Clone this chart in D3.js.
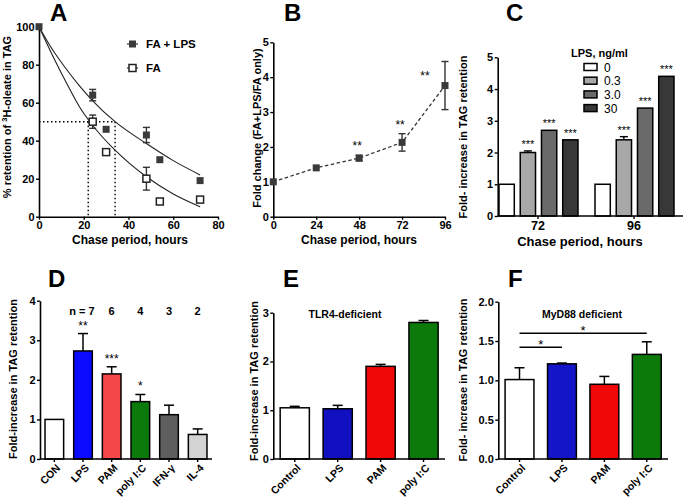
<!DOCTYPE html>
<html><head><meta charset="utf-8">
<script src="https://cdn.jsdelivr.net/npm/d3@7"></script>
<style>
body{margin:0;background:#fff;}
svg{display:block;font-family:"Liberation Sans",Arial,sans-serif;font-weight:bold;}
</style></head><body>
<svg id="c" width="683" height="500"></svg>
<script>
// ---------- DATA ----------
// Panel A
const aTimes = [0, 24, 30, 48, 54, 72];
const aLps = [100, 64, 46, 43, 30, 19];
const aLpsErr = [0, 3, 0, 4, 0, 0];
const aFa = [100, 50, 34, 20, 8, 9];
const aFaErr = [0, 3.5, 0, 6, 0, 0];
const aFitT = [0, 6, 12, 18, 24, 34, 48, 60, 72];
const aFitLps = [100, 88, 78, 69, 61, 50, 38.5, 29.5, 22];
const aFitFa = [100, 85, 71, 58, 48, 35, 21, 12, 5.3];
const aHalfLife = [22, 34];
const aXTicks = [0, 20, 40, 60, 80];
const aYTicks = [0, 20, 40, 60, 80, 100];
// Panel B
const bTimes = [0, 24, 48, 72, 96];
const bVals = [1, 1.4, 1.68, 2.13, 3.76];
const bErr = [0, 0.03, 0.08, 0.25, 0.69];
const bStars = ["", "", "**", "**", "**"];
const bYTicks = [0, 1, 2, 3, 4, 5];
// Panel C
const cGroups = ["72", "96"];
const cSeries = ["0", "0.3", "3.0", "30"];
const cVals72 = [1, 2.0, 2.7, 2.4];
const cVals96 = [1, 2.4, 3.4, 4.4];
const cErr72 = [0, 0.05, 0, 0];
const cErr96 = [0, 0.1, 0, 0];
const cStars = ["", "***", "***", "***"];
const cColors = ["#ffffff", "#a8a8a8", "#6a6a6a", "#383838"];
const cYTicks = [0, 1, 2, 3, 4, 5];
// Panel D
const dCats = ["CON", "LPS", "PAM", "poly I:C", "IFN-γ", "IL-4"];
const dVals = [1.0, 2.73, 2.15, 1.45, 1.12, 0.62];
const dErr = [0, 0.44, 0.18, 0.18, 0.24, 0.14];
const dN = ["", "n = 7", "6", "4", "3", "2"];
const dStars = ["", "**", "***", "*", "", ""];
const dColors = ["#ffffff", "#0a0aff", "#f24848", "#0b7a0b", "#5e5e5e", "#d4d4d4"];
const dYTicks = [0, 1, 2, 3, 4];
// Panel E
const eCats = ["Control", "LPS", "PAM", "poly I:C"];
const eVals = [1.05, 1.03, 1.9, 2.8];
const eErr = [0.03, 0.07, 0.04, 0.04];
const eColors = ["#ffffff", "#1010c0", "#f00808", "#0b7a0b"];
const eYTicks = [0, 1, 2, 3];
// Panel F
const fCats = ["Control", "LPS", "PAM", "poly I:C"];
const fVals = [1.01, 1.21, 0.95, 1.33];
const fErr = [0.15, 0.01, 0.1, 0.16];
const fColors = ["#ffffff", "#1414c8", "#f00808", "#0b7a0b"];
const fYTicks = [0, 0.5, 1.0, 1.5, 2.0];
const fSig = [{from: "Control", to: "LPS", level: 1.42}, {from: "Control", to: "poly I:C", level: 1.6}];

// ---------- DRAW ----------
const svg = d3.select("#c");
const FS = 11;

function styleAxis(g) {
  g.selectAll(".domain").attr("stroke", "#000").attr("stroke-width", 1.6);
  g.selectAll(".tick line").attr("stroke", "#000").attr("stroke-width", 1.4);
  g.selectAll(".tick text").attr("font-size", FS).attr("font-weight", "bold")
    .attr("font-family", "Liberation Sans, Arial, sans-serif").attr("fill", "#000");
}
function panelLetter(x, y, t) {
  svg.append("text").attr("x", x).attr("y", y).attr("font-size", 24).attr("font-weight", "bold").text(t);
}
function yLabel(x, y, t, fs) {
  return svg.append("text").attr("transform", `translate(${x},${y}) rotate(-90)`)
    .attr("text-anchor", "middle").attr("font-size", fs || FS).text(t);
}
function xLabel(x, y, t, fs) {
  svg.append("text").attr("x", x).attr("y", y).attr("text-anchor", "middle")
    .attr("font-size", fs || 12).text(t);
}
function yAxis(y, x0, ticks, fmt) {
  const g = svg.append("g").attr("transform", `translate(${x0},0)`)
    .call(d3.axisLeft(y).tickValues(ticks).tickSize(3).tickSizeOuter(0).tickPadding(1.5).tickFormat(fmt || d3.format("d")));
  styleAxis(g);
  return g;
}
function errBar(g, cx, lo, hi, w) {
  g.append("line").attr("x1", cx).attr("x2", cx).attr("y1", lo).attr("y2", hi);
  g.append("line").attr("x1", cx - w).attr("x2", cx + w).attr("y1", hi).attr("y2", hi);
}

// ===== Panel A =====
{
  const x = d3.scaleLinear().domain([0, 80]).range([39, 218]);
  const y = d3.scaleLinear().domain([0, 100]).range([216.7, 26.7]);
  panelLetter(50, 21, "A");
  const hl = svg.append("g").attr("stroke", "#000").attr("stroke-width", 1.4).attr("stroke-dasharray", "1.5,2.5");
  hl.append("line").attr("x1", x(0)).attr("x2", x(aHalfLife[1])).attr("y1", y(50)).attr("y2", y(50));
  aHalfLife.forEach(h => hl.append("line").attr("x1", x(h)).attr("x2", x(h)).attr("y1", y(50)).attr("y2", y(0)));
  const line = d3.line().x(d => x(d[0])).y(d => y(d[1])).curve(d3.curveMonotoneX);
  svg.append("path").datum(aFitT.map((t, i) => [t, aFitLps[i]])).attr("d", line)
    .attr("fill", "none").attr("stroke", "#222").attr("stroke-width", 1.1);
  svg.append("path").datum(aFitT.map((t, i) => [t, aFitFa[i]])).attr("d", line)
    .attr("fill", "none").attr("stroke", "#222").attr("stroke-width", 1.1);
  yAxis(y, 39, aYTicks);
  const gx = svg.append("g").attr("transform", `translate(0,216.7)`)
    .call(d3.axisBottom(x).tickValues(aXTicks).tickSize(3).tickSizeOuter(0).tickPadding(1.5));
  styleAxis(gx);
  const eb = (vals, errs) => aTimes.forEach((t, i) => {
    if (!errs[i]) return;
    const g = svg.append("g").attr("stroke", "#333").attr("stroke-width", 1.4);
    g.append("line").attr("x1", x(t)).attr("x2", x(t)).attr("y1", y(vals[i] - errs[i])).attr("y2", y(vals[i] + errs[i]));
    [vals[i] - errs[i], vals[i] + errs[i]].forEach(v => g.append("line").attr("x1", x(t) - 3.5).attr("x2", x(t) + 3.5).attr("y1", y(v)).attr("y2", y(v)));
  });
  eb(aLps, aLpsErr); eb(aFa, aFaErr);
  const s = 7;
  svg.selectAll(".lps").data(aTimes).enter().append("rect")
    .attr("x", d => x(d) - s / 2).attr("y", (d, i) => y(aLps[i]) - s / 2).attr("width", s).attr("height", s)
    .attr("fill", "#3a3a3a");
  svg.selectAll(".fa").data(aTimes.slice(1)).enter().append("rect")
    .attr("x", d => x(d) - s / 2).attr("y", (d, i) => y(aFa[i + 1]) - s / 2).attr("width", s).attr("height", s)
    .attr("fill", "#fff").attr("stroke", "#222").attr("stroke-width", 1.5);
  svg.append("line").attr("x1", 127).attr("x2", 138).attr("y1", 44).attr("y2", 44).attr("stroke", "#333").attr("stroke-width", 1.2);
  svg.append("rect").attr("x", 129).attr("y", 40.5).attr("width", s).attr("height", s).attr("fill", "#3a3a3a");
  svg.append("text").attr("x", 146).attr("y", 48).attr("font-size", 11.5).text("FA + LPS");
  svg.append("line").attr("x1", 127).attr("x2", 138).attr("y1", 68).attr("y2", 68).attr("stroke", "#333").attr("stroke-width", 1.2);
  svg.append("rect").attr("x", 129).attr("y", 64.5).attr("width", s).attr("height", s).attr("fill", "#fff").attr("stroke", "#222").attr("stroke-width", 1.5);
  svg.append("text").attr("x", 146).attr("y", 72).attr("font-size", 11.5).text("FA");
  const yl = yLabel(11, 117, "", 11);
  yl.append("tspan").text("% retention of ");
  yl.append("tspan").attr("font-size", 7.5).attr("dy", -4).text("3");
  yl.append("tspan").attr("dy", 4).text("H-oleate in TAG");
  xLabel(130, 244, "Chase period, hours");
}

// ===== Panel B =====
{
  const x = d3.scaleLinear().domain([0, 96]).range([273.3, 445]);
  const y = d3.scaleLinear().domain([0, 5]).range([216.7, 42.3]);
  panelLetter(284, 21, "B");
  yAxis(y, 273.3, bYTicks);
  const gx = svg.append("g").attr("transform", `translate(0,216.7)`)
    .call(d3.axisBottom(x).tickValues(bTimes).tickSize(3).tickSizeOuter(0).tickPadding(1.5));
  styleAxis(gx);
  svg.append("path").datum(bTimes.map((t, i) => [t, bVals[i]]))
    .attr("d", d3.line().x(d => x(d[0])).y(d => y(d[1])))
    .attr("fill", "none").attr("stroke", "#333").attr("stroke-width", 1.3).attr("stroke-dasharray", "3.5,2.5");
  bTimes.forEach((t, i) => {
    if (bErr[i] > 0.05) {
      const g = svg.append("g").attr("stroke", "#333").attr("stroke-width", 1.4);
      g.append("line").attr("x1", x(t)).attr("x2", x(t)).attr("y1", y(bVals[i] - bErr[i])).attr("y2", y(bVals[i] + bErr[i]));
      [bVals[i] - bErr[i], bVals[i] + bErr[i]].forEach(v => g.append("line").attr("x1", x(t) - 3.5).attr("x2", x(t) + 3.5).attr("y1", y(v)).attr("y2", y(v)));
    }
  });
  svg.selectAll(".bpt").data(bTimes).enter().append("rect")
    .attr("x", d => x(d) - 3.5).attr("y", (d, i) => y(bVals[i]) - 3.5).attr("width", 7).attr("height", 7).attr("fill", "#3a3a3a");
  bTimes.forEach((t, i) => {
    if (!bStars[i]) return;
    const last = i === bTimes.length - 1;
    const tx = last ? x(t) - 20 : x(t) - 2;
    const ty = last ? y(bVals[i] + bErr[i]) + 19 : y(bVals[i] + Math.max(bErr[i], 0.08)) - 5;
    svg.append("text").attr("x", tx).attr("y", ty).attr("text-anchor", "middle").attr("font-size", 12)
      .attr("font-weight", "normal").attr("fill", "#000").text(bStars[i]);
  });
  yLabel(261, 128, "Fold change (FA+LPS/FA only)", 11);
  xLabel(359, 244, "Chase period, hours");
}

// ===== Panel C =====
{
  const y = d3.scaleLinear().domain([0, 5]).range([216, 57.3]);
  const x0 = d3.scaleBand().domain(cGroups).range([490, 682]);
  const x1 = d3.scaleBand().domain(cSeries).range([9, 88]).paddingInner(0.28);
  panelLetter(506, 21, "C");
  const data = [cVals72, cVals96];
  const errs = [cErr72, cErr96];
  cGroups.forEach((g, gi) => {
    cSeries.forEach((s, si) => {
      const bx = x0(g) + x1(s);
      const v = data[gi][si];
      const e = errs[gi][si];
      const cx = bx + x1.bandwidth() / 2;
      if (e) errBar(svg.append("g").attr("stroke", "#000").attr("stroke-width", 1.4), cx, y(v), y(v + e), 4);
      svg.append("rect").attr("x", bx).attr("y", y(v)).attr("width", x1.bandwidth()).attr("height", y(0) - y(v))
        .attr("fill", cColors[si]).attr("stroke", "#000").attr("stroke-width", 1.5);
      if (cStars[si]) svg.append("text").attr("x", cx).attr("y", y(v + e) - 3).attr("text-anchor", "middle")
        .attr("font-size", 11).attr("font-weight", "normal").attr("fill", "#000").text(cStars[si]);
    });
  });
  yAxis(y, 497.7, cYTicks);
  const gx = svg.append("g").attr("transform", `translate(0,216)`);
  gx.append("line").attr("x1", 497.7).attr("x2", 683).attr("stroke", "#000").attr("stroke-width", 1.6);
  cGroups.forEach(g => {
    const cx = x0(g) + x0.bandwidth() / 2;
    gx.append("line").attr("x1", cx).attr("x2", cx).attr("y1", 0).attr("y2", 3).attr("stroke", "#000").attr("stroke-width", 1.4);
    gx.append("text").attr("x", cx).attr("y", 14).attr("text-anchor", "middle").attr("font-size", 12.5).text(g);
  });
  svg.append("text").attr("x", 571).attr("y", 57).attr("font-size", 11).text("LPS, ng/ml");
  cSeries.forEach((s, i) => {
    const ly = 67 + i * 13.7;
    svg.append("rect").attr("x", 584).attr("y", ly - 3.5).attr("width", 13).attr("height", 7)
      .attr("fill", cColors[i]).attr("stroke", "#000").attr("stroke-width", 1.5);
    svg.append("text").attr("x", 604).attr("y", ly + 4.5).attr("font-size", 12).attr("font-weight", "normal").text(s);
  });
  yLabel(467, 137, "Fold- increase in TAG retention", 11);
  xLabel(580, 246, "Chase period, hours", 13);
}

// ===== bar panels helper =====
function barPanel(o) {
  const y = d3.scaleLinear().domain([0, o.ymax]).range([459, o.ytop]);
  const x = d3.scaleBand().domain(o.cats).range([o.x0, o.x1]).paddingInner(o.pi).paddingOuter(o.po);
  panelLetter(o.lx, 287, o.letter);
  o.cats.forEach((c, i) => {
    const v = o.vals[i], e = o.errs[i];
    const cx = x(c) + x.bandwidth() / 2;
    if (e) errBar(svg.append("g").attr("stroke", "#000").attr("stroke-width", 1.5), cx, y(v), y(v + e), 5);
    svg.append("rect").attr("x", x(c)).attr("y", y(v)).attr("width", x.bandwidth()).attr("height", y(0) - y(v))
      .attr("fill", o.colors[i]).attr("stroke", "#000").attr("stroke-width", 1.5);
  });
  yAxis(y, o.x0, o.ticks, o.fmt);
  const gx = svg.append("g").attr("transform", `translate(0,459)`);
  gx.append("line").attr("x1", o.x0).attr("x2", o.x1).attr("stroke", "#000").attr("stroke-width", 1.6);
  o.cats.forEach(c => {
    const cx = x(c) + x.bandwidth() / 2;
    gx.append("line").attr("x1", cx).attr("x2", cx).attr("y1", 0).attr("y2", 3).attr("stroke", "#000").attr("stroke-width", 1.4);
    gx.append("text").attr("transform", `translate(${cx + 4},${7}) rotate(-45)`).attr("text-anchor", "end")
      .attr("font-size", 10.5).attr("dy", "0.35em").text(c);
  });
  return {x, y};
}

// ===== Panel D =====
{
  const {x, y} = barPanel({cats: dCats, vals: dVals, errs: dErr, colors: dColors, ymax: 4, ytop: 300.7,
    x0: 40, x1: 212, pi: 0.35, po: 0.175, ticks: dYTicks, letter: "D", lx: 48});
  dCats.forEach((c, i) => {
    const cx = x(c) + x.bandwidth() / 2;
    if (dN[i]) svg.append("text").attr("x", dN[i].length > 1 ? cx - 1 : cx).attr("y", 315).attr("text-anchor", "middle").attr("font-size", 11).text(dN[i]);
    if (dStars[i]) svg.append("text").attr("x", cx).attr("y", y(dVals[i] + dErr[i]) - 4).attr("text-anchor", "middle")
      .attr("font-size", 12).attr("font-weight", "normal").attr("fill", "#000").text(dStars[i]);
  });
  yLabel(17, 379, "Fold-increase in TAG retention", 11);
}

// ===== Panel E =====
{
  barPanel({cats: eCats, vals: eVals, errs: eErr, colors: eColors, ymax: 3, ytop: 312.7,
    x0: 273.3, x1: 445, pi: 0.32, po: 0.16, ticks: eYTicks, letter: "E", lx: 283});
  svg.append("text").attr("x", 345).attr("y", 318).attr("text-anchor", "middle").attr("font-size", 10.5).text("TLR4-deficient");
  yLabel(258, 381, "Fold-increase in TAG retention", 11);
}

// ===== Panel F =====
{
  const {x, y} = barPanel({cats: fCats, vals: fVals, errs: fErr, colors: fColors, ymax: 2, ytop: 301.7,
    x0: 498.3, x1: 668, pi: 0.32, po: 0.16, ticks: fYTicks, fmt: d3.format(".1f"), letter: "F", lx: 508});
  svg.append("text").attr("x", 582).attr("y", 318).attr("text-anchor", "middle").attr("font-size", 10.5).text("MyD88 deficient");
  fSig.forEach(s => {
    const xa = x(s.from) + x.bandwidth() / 2, xb = x(s.to) + x.bandwidth() / 2;
    svg.append("line").attr("x1", xa).attr("x2", xb).attr("y1", y(s.level)).attr("y2", y(s.level)).attr("stroke", "#000").attr("stroke-width", 1.5);
    svg.append("text").attr("x", (xa + xb) / 2).attr("y", y(s.level) + 1.5).attr("text-anchor", "middle")
      .attr("font-size", 13).attr("font-weight", "normal").attr("fill", "#000").text("*");
  });
  yLabel(467, 380, "Fold- increase in TAG retention", 11);
}
</script>
</body></html>
